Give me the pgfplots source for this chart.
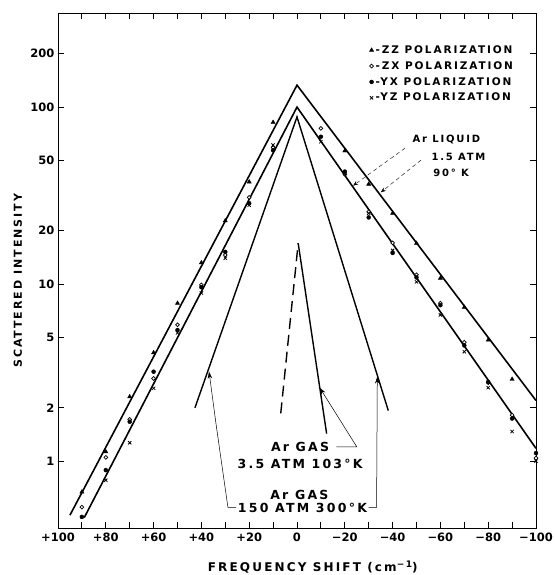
\documentclass[border=0pt]{standalone}
\usepackage{fontspec}
\setmainfont{DejaVu Sans}
\newfontfamily\lbl{DejaVu Sans}[LetterSpace=18]
\usepackage{pgfplots}
\pgfplotsset{compat=1.18}
\usetikzlibrary{arrows.meta}

\newcommand{\ann}{\lbl\bfseries\fontsize{12.5}{14}\selectfont}
\newcommand{\liq}{\lbl\bfseries\fontsize{10}{12}\selectfont}

\begin{document}
\begin{tikzpicture}
\path[use as bounding box] (-58pt,-47pt) rectangle (496pt,528pt);
\begin{axis}[
  scale only axis,
  width=478pt, height=515pt,
  x dir=reverse,
  xmin=-100, xmax=100,
  ymode=log, ymin=0.419, ymax=340,
  xtick={100,80,60,40,20,0,-20,-40,-60,-80,-100},
  xticklabels={+100,+80,+60,+40,+20,0,−20,−40,−60,−80,−100},
  minor xtick={90,70,50,30,10,-10,-30,-50,-70,-90},
  ytick={1,2,5,10,20,50,100,200},
  yticklabels={1,2,5,10,20,50,100,200},
  yminorticks=false,
  axis line style={line width=0.9pt},
  tick style={line width=0.9pt, black},
  major tick length=6pt, minor tick length=6pt,
  ticklabel style={font=\bfseries\fontsize{11.5}{13}\selectfont},
  xticklabel style={yshift=-1pt},
  xlabel={FREQUENCY SHIFT (cm\raisebox{0.55ex}{\fontsize{9}{9}\selectfont −1})},
  ylabel={SCATTERED INTENSITY},
  xlabel style={font=\lbl\bfseries\fontsize{12}{13}\selectfont, at={(axis description cs:0.533,-0.0757)}, anchor=center},
  ylabel style={font=\lbl\bfseries\fontsize{11}{12}\selectfont, at={(axis description cs:-0.084,0.48)}, anchor=center},
  legend style={draw=none, fill=none, at={(rel axis cs:0.645,0.945)}, anchor=north west,
    font=\lbl\bfseries\fontsize{10.5}{12}\selectfont, row sep=2.6pt},
  legend cell align=left,
]
% liquid lines
\addplot[black, line width=1.6pt, forget plot] coordinates {(95,0.495) (0,133) (-100,2.2)};
\addplot[black, line width=1.6pt, forget plot] coordinates {(89,0.48) (0,100) (-100,1.18)};
% gas lines
\addplot[black, line width=1.4pt, forget plot] coordinates {(42.7,2.0) (0,88) (-38.2,1.93)};
\addplot[black, line width=1.4pt, dash pattern=on 11pt off 6pt, forget plot] coordinates {(6.8,1.86) (-0.5,17)};
\addplot[black, line width=1.4pt, forget plot] coordinates {(-0.5,17) (-12.4,1.43)};

% ZZ
\addplot[only marks, mark=triangle*, mark size=2.4pt, black] coordinates {
(90,0.67) (80,1.13) (70,2.31) (60,4.1) (50,7.8) (40,13.2) (30,22.8) (20,37.8) (10,82)
(-20,56.6) (-30,36.7) (-40,25.1) (-50,17.0) (-60,10.8) (-70,7.4) (-80,4.83) (-90,2.9)};
\addlegendentry{-ZZ POLARIZATION}
% ZX
\addplot[only marks, mark=*, mark size=1.9pt, mark options={fill=white, line width=0.7pt}, black] coordinates {
(90,0.55) (80,1.05) (70,1.72) (60,2.93) (50,5.9) (40,9.9) (30,14.6) (20,30.9) (10,59)
(-10,75.8) (-20,41.8) (-30,25.6) (-40,17.1) (-50,11.3) (-60,7.8) (-70,4.69) (-80,2.77) (-90,1.82) (-100,1.04)};
\addlegendentry{-ZX POLARIZATION}
% YX
\addplot[only marks, mark=*, mark size=2pt, black] coordinates {
(90,0.484) (80,0.89) (70,1.67) (60,3.2) (50,5.5) (40,9.6) (30,15.2) (20,28.6) (10,57)
(-10,68) (-20,43.2) (-30,23.8) (-40,15.0) (-50,10.9) (-60,7.6) (-70,4.5) (-80,2.8) (-90,1.74) (-100,1.11)};
\addlegendentry{-YX POLARIZATION}
% YZ
\addplot[only marks, mark=x, mark size=2.3pt, mark options={line width=0.8pt}, black] coordinates {
(80,0.78) (70,1.27) (60,2.58) (50,5.3) (40,8.9) (30,14) (20,27.9) (10,61)
(-10,63.7) (-20,42) (-30,25.1) (-40,15.5) (-50,10.3) (-60,6.7) (-70,4.15) (-80,2.6) (-90,1.47) (-100,1.0)};
\addlegendentry{-YZ POLARIZATION}

% annotations
\node[font=\ann] at (axis cs:-1.3,1.2) {Ar GAS};
\node[font=\ann] at (axis cs:-1.3,0.96) {3.5 ATM 103°K};
\node[font=\ann] at (axis cs:-1.0,0.643) {Ar GAS};
\node[font=\ann] at (axis cs:-2.3,0.544) {150 ATM 300°K};
\draw[line width=0.5pt, -{Stealth[length=7pt,width=4.5pt]}] (axis cs:-16.5,1.205) -- (axis cs:-25,1.205) -- (axis cs:-9.5,2.6);
\draw[line width=0.5pt, -{Stealth[length=7pt,width=4.5pt]}] (axis cs:25.5,0.548) -- (axis cs:28.9,0.548) -- (axis cs:33.9,1.63) -- (axis cs:36.8,3.2);
\draw[line width=0.5pt, -{Stealth[length=7pt,width=4.5pt]}] (axis cs:-30,0.548) -- (axis cs:-33.3,0.548) -- (axis cs:-33.6,3.0);

\node[font=\liq, anchor=west] at (axis cs:-46.9,65.2) {Ar LIQUID};
\node[font=\liq, anchor=west] at (axis cs:-54.8,52.2) {1.5 ATM};
\node[font=\liq, anchor=west] at (axis cs:-55.6,42.4) {90° K};
\draw[line width=0.4pt, dash pattern=on 4pt off 3pt, -{Stealth[length=5pt,width=4pt]}] (axis cs:-45.2,58.6) -- (axis cs:-23.5,36);
\draw[line width=0.4pt, dash pattern=on 4pt off 3pt, -{Stealth[length=5pt,width=4pt]}] (axis cs:-51.9,50.2) -- (axis cs:-35.1,33);
\end{axis}
\end{tikzpicture}
\end{document}
